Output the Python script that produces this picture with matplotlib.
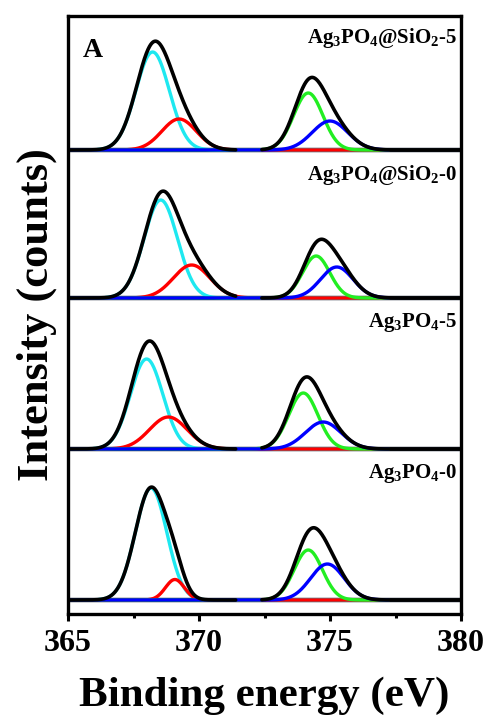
"""Ag 3d XPS fits for the four Ag3PO4 samples, stacked in one frame."""

import numpy as np
import matplotlib

matplotlib.use("Agg")
import matplotlib.pyplot as plt
from matplotlib.ticker import MultipleLocator

# samples, top to bottom
SAMPLES = [r"Ag$_3$PO$_4$@SiO$_2$-5", r"Ag$_3$PO$_4$@SiO$_2$-0",
           r"Ag$_3$PO$_4$-5", r"Ag$_3$PO$_4$-0"]

# fitted components per sample: centre (eV), height (counts, a.u.), sigma (eV)
# Ag 3d5/2 main (cyan) and shoulder (red)
CYAN_CENTER = [368.23, 368.54, 368.00, 368.17]
CYAN_HEIGHT = [98, 98, 90, 112]
CYAN_SIGMA = [0.64, 0.64, 0.62, 0.60]
RED_CENTER = [369.24, 369.72, 368.83, 369.08]
RED_HEIGHT = [31, 33, 32, 20.5]
RED_SIGMA = [0.66, 0.70, 0.72, 0.36]
# Ag 3d3/2 main (green) and shoulder (blue)
GREEN_CENTER = [374.17, 374.47, 373.98, 374.17]
GREEN_HEIGHT = [57, 42, 56, 50]
GREEN_SIGMA = [0.56, 0.52, 0.56, 0.54]
BLUE_CENTER = [375.00, 375.26, 374.74, 374.90]
BLUE_HEIGHT = [29, 31, 27, 36]
BLUE_SIGMA = [0.68, 0.62, 0.68, 0.64]

# fitting windows (eV)
COMPONENT_RANGE = (365.0, 377.2)
ENVELOPE_RANGES = [(365.0, 371.4), (372.4, 380.0)]

OFFSETS = [450, 302, 151, 0]
LABEL_DY = [107, 118, 122, 122]

plt.rcParams["font.family"] = ["Liberation Serif", "DejaVu Serif"]
plt.rcParams["font.weight"] = "bold"
plt.rcParams["mathtext.default"] = "regular"


def gauss(x, c, h, s):
    return h * np.exp(-(x - c) ** 2 / (2 * s ** 2))


fig = plt.figure(figsize=(4.88, 7.16), dpi=100)
ax = fig.add_axes([68 / 488, 102 / 716, 393 / 488, 598 / 716])

comp_x = np.linspace(*COMPONENT_RANGE, 600)
for i, name in enumerate(SAMPLES):
    off = OFFSETS[i]
    ax.axhline(off, color="#1b2838", lw=3.2, zorder=1)
    peaks = [
        (CYAN_CENTER[i], CYAN_HEIGHT[i], CYAN_SIGMA[i], "#1ee8f0"),
        (RED_CENTER[i], RED_HEIGHT[i], RED_SIGMA[i], "#ff0000"),
        (GREEN_CENTER[i], GREEN_HEIGHT[i], GREEN_SIGMA[i], "#22ee22"),
        (BLUE_CENTER[i], BLUE_HEIGHT[i], BLUE_SIGMA[i], "#0000ff"),
    ]
    for c, h, s, col in peaks:
        ax.plot(comp_x, off + gauss(comp_x, c, h, s), color=col, lw=2.4, zorder=2)
    # envelope = sum of the components
    for lo, hi in ENVELOPE_RANGES:
        ex = np.linspace(lo, hi, 600)
        total = sum(gauss(ex, c, h, s) for c, h, s, _ in peaks)
        ax.plot(ex, off + total, color="black", lw=2.6, zorder=3,
                solid_capstyle="round")
    ax.text(379.85, off + LABEL_DY[i], name, ha="right", va="baseline",
            fontsize=15, fontweight="bold")

ax.text(365.57, 543, "A", fontsize=20, fontweight="bold")

ax.set_xlim(365, 380)
ax.set_ylim(-14, 584)
ax.xaxis.set_major_locator(MultipleLocator(5))
ax.xaxis.set_minor_locator(MultipleLocator(2.5))
ax.set_yticks([])
ax.tick_params(axis="x", which="major", length=5, width=2.2, labelsize=23, pad=6)
ax.tick_params(axis="x", which="minor", length=3, width=2.2)
for sp in ax.spines.values():
    sp.set_linewidth(2.4)

ax.set_xlabel("Binding energy (eV)", fontsize=31, fontweight="bold", labelpad=13)
ax.set_ylabel("Intensity (counts)", fontsize=32, fontweight="bold", labelpad=8)

fig.savefig("out.png", dpi=100)
